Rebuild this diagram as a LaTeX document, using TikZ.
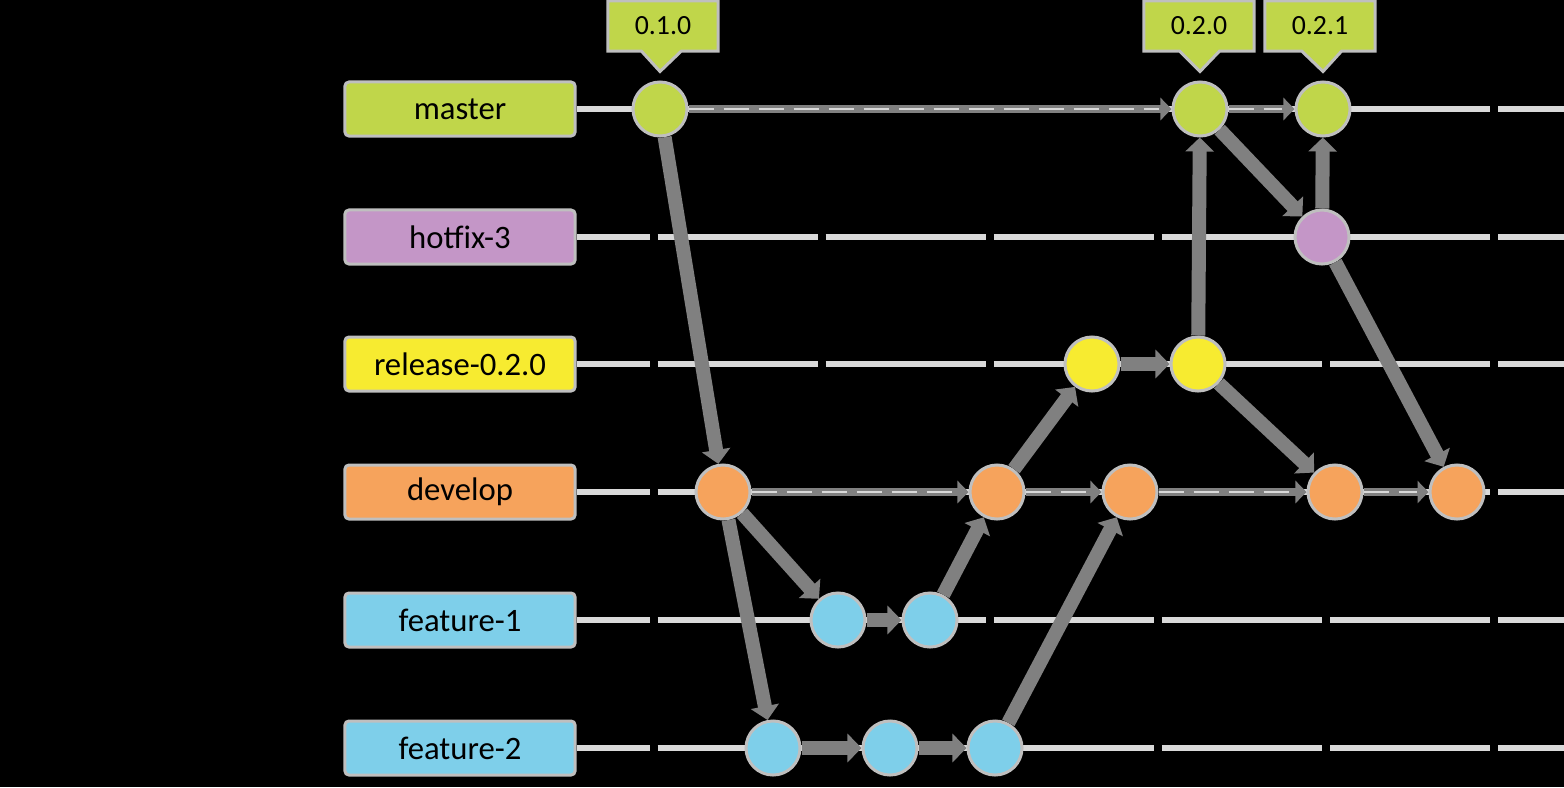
\documentclass[tikz,border=0pt]{standalone}
\usepackage{fontspec}
\setmainfont{Carlito}
\usepackage{tikz}
\usetikzlibrary{arrows.meta,calc,shapes.callouts}

\definecolor{mgreen}{RGB}{192,214,74}
\definecolor{hpurple}{RGB}{196,150,199}
\definecolor{ryellow}{RGB}{247,235,48}
\definecolor{dorange}{RGB}{246,163,92}
\definecolor{fblue}{RGB}{126,207,234}
\definecolor{edgegray}{RGB}{128,128,128}
\definecolor{lanegray}{RGB}{217,217,217}
\definecolor{rimgray}{RGB}{191,191,191}

\begin{document}
\begin{tikzpicture}[x=0.01cm, y=-0.01cm,
    branch/.style={rectangle, draw=rimgray, line width=0.03cm, rounded corners=0.04cm,
        minimum width=2.3cm, minimum height=0.54cm, font=\fontsize{9.3}{11}\selectfont},
    commit/.style={circle, draw=rimgray, line width=0.03cm, minimum size=0.54cm, inner sep=0pt},
    tag/.style={rectangle callout, fill=mgreen, draw=rimgray, line width=0.03cm,
        minimum width=1.1cm, minimum height=0.5cm, callout pointer width=0.4cm,
        font=\fontsize{7.9}{9}\selectfont},
    lane/.style={draw=lanegray, line width=0.06cm, dash pattern=on 1.6cm off 0.08cm, dash phase=0.87cm},
    merge/.style={draw=edgegray, line width=0.14cm, -{Triangle[width=0.28cm,length=0.14cm]}},
    flow/.style={draw=edgegray, line width=0.08cm, -{Triangle[width=0.22cm,length=0.11cm]},
        postaction={draw=lanegray, line width=0.02cm, dash pattern=on 0.25cm off 0.1cm, shorten >=0.12cm, -}}
]
    \fill[black] (0,0) rectangle (1564,787);
    \useasboundingbox (0,0) rectangle (1564,787);

    % Branch labels and their lanes
    \foreach \n/\y/\c/\t in {
        master/109/mgreen/master,
        hotfix/237/hpurple/hotfix-3,
        release/364/ryellow/release-0.2.0,
        develop/492/dorange/develop,
        featA/620/fblue/feature-1,
        featB/748/fblue/feature-2%
    } {
        \node[branch, fill=\c] (l\n) at (460,\y) {\t};
        \draw[lane] (l\n.east) -- (1564,\y);
    }

    % Commits
    \foreach \n/\x/\y/\c in {
        m010/660/109/mgreen, m020/1200/109/mgreen, m021/1323/109/mgreen,
        hf1/1322/237/hpurple,
        r1/1092/364/ryellow, r2/1198/364/ryellow,
        d1/723/492/dorange, d2/997/492/dorange, d3/1130/492/dorange,
        d4/1335/492/dorange, d5/1457/492/dorange,
        fa1/838/620/fblue, fa2/930/620/fblue,
        fb1/773/748/fblue, fb2/890/748/fblue, fb3/995/748/fblue%
    } {
        \node[commit, fill=\c] (\n) at (\x,\y) {};
    }

    % Tags
    \node[tag, callout absolute pointer={($(m010.north)+(0,-9)$)}] (t010) at (663,26) {0.1.0};
    \node[tag, callout absolute pointer={($(m020.north)+(0,-9)$)}] (t020) at (1199,26) {0.2.0};
    \node[tag, callout absolute pointer={($(m021.north)+(0,-9)$)}] (t021) at (1320,26) {0.2.1};

    % Commits along a branch
    \draw[flow] (m010) -- (m020);
    \draw[flow] (m020) -- (m021);
    \draw[flow] (d1) -- (d2);
    \draw[flow] (d2) -- (d3);
    \draw[flow] (d3) -- (d4);
    \draw[flow] (d4) -- (d5);

    % Branching and merging
    \draw[merge] (m010) -- (d1);
    \draw[merge] (d1) -- (fa1);
    \draw[merge] (d1) -- (fb1);
    \draw[merge] (fa1) -- (fa2);
    \draw[merge] (fa2) -- (d2);
    \draw[merge] (fb1) -- (fb2);
    \draw[merge] (fb2) -- (fb3);
    \draw[merge] (fb3) -- (d3);
    \draw[merge] (d2) -- (r1);
    \draw[merge] (r1) -- (r2);
    \draw[merge] (r2) -- (m020);
    \draw[merge] (r2) -- (d4);
    \draw[merge] (m020) -- (hf1);
    \draw[merge] (hf1) -- (m021);
    \draw[merge] (hf1) -- (d5);
\end{tikzpicture}
\end{document}
